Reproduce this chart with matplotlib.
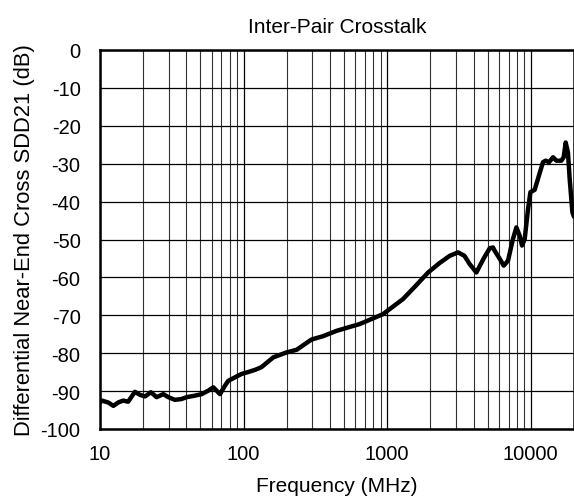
import matplotlib
matplotlib.use("Agg")
import matplotlib.pyplot as plt
from matplotlib.ticker import FixedLocator, NullFormatter

plt.rcParams['font.family'] = ['Liberation Sans', 'DejaVu Sans']
plt.rcParams['axes.unicode_minus'] = False

# frequency (MHz) and SDD21 (dB)
freq = [10.0, 10.3, 11.4, 12.4, 13.4, 14.5, 15.7, 17.5, 19.0, 20.6, 22.6, 24.8,
        27.6, 29.9, 33.2, 36.9, 40.1, 45.8, 51.0, 56.7, 61.5, 68.5, 74.1, 78.1,
        86.8, 96.5, 107, 120, 133, 161, 199, 234, 297, 358, 444, 644, 935,
        1290, 1600, 1928, 2300, 2727, 3115, 3450, 3756, 4180, 4700, 5180, 5455, 5610, 6080, 6480,
        6940, 7510, 7940, 8370, 8690, 9070, 9570, 9940, 10640, 11220, 12160,
        12700, 13400, 14290, 15080, 16330, 16950, 17500, 18150, 18660, 19490, 20000]
sdd21 = [-93.0, -92.5, -93.0, -93.9, -93.0, -92.5, -92.8, -90.2, -91.0, -91.4, -90.3, -91.6,
         -90.8, -91.6, -92.3, -92.1, -91.6, -91.2, -90.8, -89.9, -89.0, -90.8, -88.6, -87.3,
         -86.4, -85.5, -85.0, -84.4, -83.7, -81.1, -79.8, -79.1, -76.4, -75.5, -74.1, -72.3, -69.7,
         -65.7, -62.0, -58.7, -56.3, -54.3, -53.4, -54.3, -56.5, -58.7, -55.0, -52.3, -52.1, -53.0, -55.1, -56.9,
         -55.6, -49.9, -46.8, -49.0, -51.6, -49.9, -42.0, -37.5, -36.9, -34.0, -29.6,
         -29.2, -29.6, -28.3, -29.2, -29.2, -28.3, -24.4, -27.0, -34.0, -42.8, -44.0]

xticks = [10, 100, 1000, 10000]
xticklabels = ['10', '100', '1000', '10000']
yticks = list(range(-100, 1, 10))

fig = plt.figure(figsize=(5.74, 5.02), dpi=100)
ax = fig.add_axes([100 / 574, 1 - 430 / 502, 474 / 574, 379 / 502])

ax.plot(freq, sdd21, color='black', lw=3.2, solid_joinstyle='round', solid_capstyle='round')

ax.set_xscale('log')
ax.set_xlim(10, 20000)
ax.set_ylim(-100, 0)
ax.xaxis.set_major_locator(FixedLocator(xticks))
ax.set_xticklabels(xticklabels)
ax.xaxis.set_minor_locator(FixedLocator([m * 10 ** d for d in range(1, 5) for m in range(2, 10) if m * 10 ** d < 20000]))
ax.xaxis.set_minor_formatter(NullFormatter())
ax.set_yticks(yticks)

ax.grid(True, which='major', color='black', lw=0.9)
ax.grid(True, which='minor', axis='x', color='#333333', lw=0.8)
ax.tick_params(which='both', length=0, labelsize=14.5)
ax.tick_params(axis='x', pad=11)
ax.tick_params(axis='y', pad=14)
for s in ax.spines.values():
    s.set_linewidth(1.8)

ax.set_title('Inter-Pair Crosstalk', fontsize=15, pad=13)
ax.set_xlabel('Frequency (MHz)', fontsize=15, labelpad=9)
ax.set_ylabel('Differential Near-End Cross SDD21 (dB)', fontsize=15.8, labelpad=4)

fig.savefig('out.png', dpi=100)
